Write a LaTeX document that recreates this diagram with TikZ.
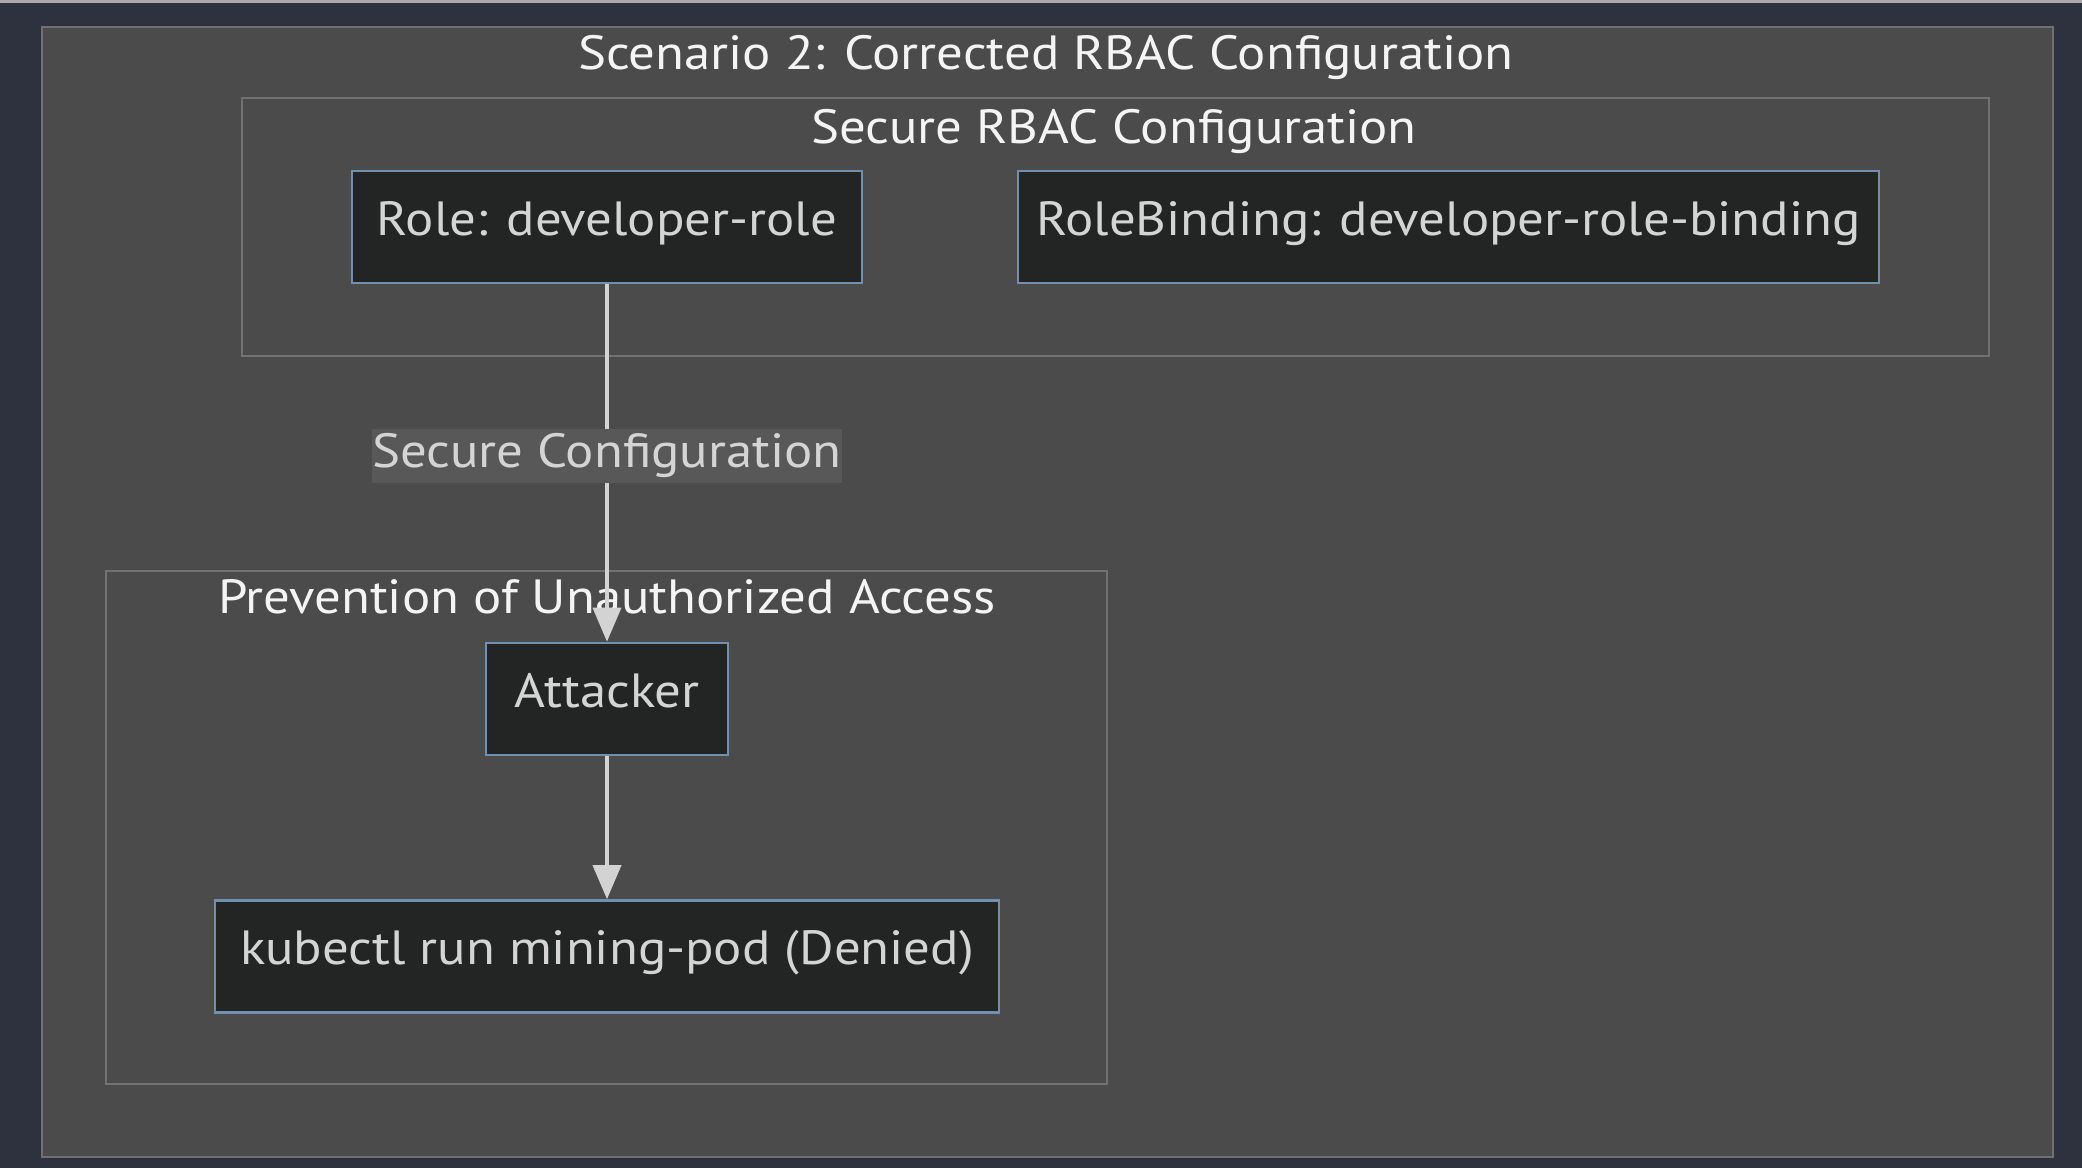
\documentclass[tikz,border=0pt]{standalone}
\usepackage{fontspec}
\setmainfont{PT Sans}[FakeStretch=1.1]
\usetikzlibrary{arrows.meta}
\definecolor{canvasbg}{HTML}{2E323E}
\definecolor{clusterfill}{HTML}{4A4B4A}
\definecolor{clusterline}{HTML}{707170}
\definecolor{nodefill}{HTML}{232525}
\definecolor{nodeline}{HTML}{7090B2}
\definecolor{nodetext}{HTML}{D4D4D4}
\definecolor{titletext}{HTML}{F4F4F4}
\definecolor{edgeline}{HTML}{D3D3D3}
\definecolor{labelfill}{HTML}{575857}

\begin{document}
\begin{tikzpicture}[
  x=0.5pt,
  y=-0.5pt,
  every node/.style={font=\fontsize{24}{28}\selectfont,
    text height=0.9em, text depth=0.1em},
  box/.style={draw=nodeline, fill=nodefill, line width=1.3pt, text=nodetext,
    minimum height=56pt, inner sep=0pt},
  cluster/.style={draw=clusterline, fill=clusterfill, line width=1pt},
  ctitle/.style={text=titletext, inner sep=0pt},
  flow/.style={edgeline, line width=1.8pt, -{Triangle[length=17pt, width=14pt]}},
  elabel/.style={fill=labelfill, text=nodetext, inner sep=0pt,
    text height=1.12em, text depth=0pt,
    minimum width=235pt, minimum height=27pt}
]

  %% ---- canvas ---------------------------------------------------------
  \fill[canvasbg] (0,0) rectangle (2082,1168);
  \useasboundingbox (0,0) rectangle (2082,1168);
  \fill[clusterline!60!white] (0,0) rectangle (2082,3);

  %% ---- outer cluster --------------------------------------------------
  \draw[cluster] (42,27) rectangle (2053,1157);
  \node[ctitle] (scenario) at (1046,61) {Scenario 2: Corrected RBAC Configuration};

  %% ---- Secure RBAC Configuration --------------------------------------
  \draw[cluster] (242,98) rectangle (1989,356);
  \node[ctitle] (rbactitle) at (1114,135) {Secure RBAC Configuration};

  \node[box, minimum width=255pt] (role) at (607,227) {Role: developer-role};
  \node[box, minimum width=430.5pt] (binding) at (1448.5,227)
    {RoleBinding: developer-role-binding};

  %% ---- Prevention of Unauthorized Access ------------------------------
  \draw[cluster] (106,571) rectangle (1107,1084);
  \node[ctitle] (preventtitle) at (607,605) {Prevention of Unauthorized Access};

  \node[box, minimum width=121pt] (attacker) at (607,699) {Attacker};
  \node[box, minimum width=392pt] (kubectl) at (607,956.5)
    {kubectl run mining-pod (Denied)};

  %% ---- edges ----------------------------------------------------------
  \draw[flow] (role) -- node[elabel, pos=0.48] (cfglabel) {Secure Configuration} (attacker);
  \draw[flow] (attacker) -- (kubectl);

\end{tikzpicture}
\end{document}
